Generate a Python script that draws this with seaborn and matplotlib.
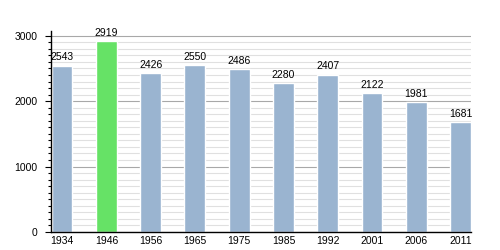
import matplotlib
matplotlib.use("Agg")
import matplotlib.pyplot as plt
import seaborn as sns
import pandas as pd
from matplotlib.ticker import MultipleLocator

years = ["1934", "1946", "1956", "1965", "1975", "1985", "1992", "2001", "2006", "2011"]
population = [2543, 2919, 2426, 2550, 2486, 2280, 2407, 2122, 1981, 1681]
highlight_year = "1946"

df = pd.DataFrame({"year": years, "pop": population})
palette = {y: ("#66e266" if y == highlight_year else "#9ab4d0") for y in years}

sns.set_style("white")
plt.rcParams["font.family"] = ["Liberation Sans", "DejaVu Sans"]

fig = plt.figure(figsize=(5, 2.5), dpi=100)
ax = fig.add_axes([0.102, 0.072, 0.84, 0.806])

sns.barplot(data=df, x="year", y="pop", hue="year", palette=palette, legend=False,
            width=0.47, saturation=1, ax=ax, zorder=3)

ax.set_xlim(-0.25, 9.236)
ax.set_ylim(0, 3080)
ax.yaxis.set_major_locator(MultipleLocator(1000))
ax.yaxis.set_minor_locator(MultipleLocator(100))
ax.grid(which="major", axis="y", color="#a8a8a8", linewidth=0.8, zorder=0)
ax.grid(which="minor", axis="y", color="#e0e0e0", linewidth=0.8, zorder=0)
ax.set_axisbelow(True)

for s in ["top", "right"]:
    ax.spines[s].set_visible(False)
for s in ["left", "bottom"]:
    ax.spines[s].set_color("black")
    ax.spines[s].set_linewidth(1.0)
    ax.spines[s].set_zorder(5)

ax.tick_params(axis="y", which="major", left=True, direction="out", length=4.5, width=0.8,
               color="black", labelsize=7.5, labelcolor="black", pad=5)
ax.tick_params(axis="y", which="minor", left=True, direction="out", length=2.5, width=0.8,
               color="black")
ax.tick_params(axis="x", bottom=False, length=0, labelsize=7.5, labelcolor="black", pad=3)
ax.set_xlabel("")
ax.set_ylabel("")

for i, v in enumerate(population):
    ax.text(i, v + 50, str(v), ha="center", va="bottom", fontsize=7.5, color="black")

fig.savefig("out.png", dpi=100)
